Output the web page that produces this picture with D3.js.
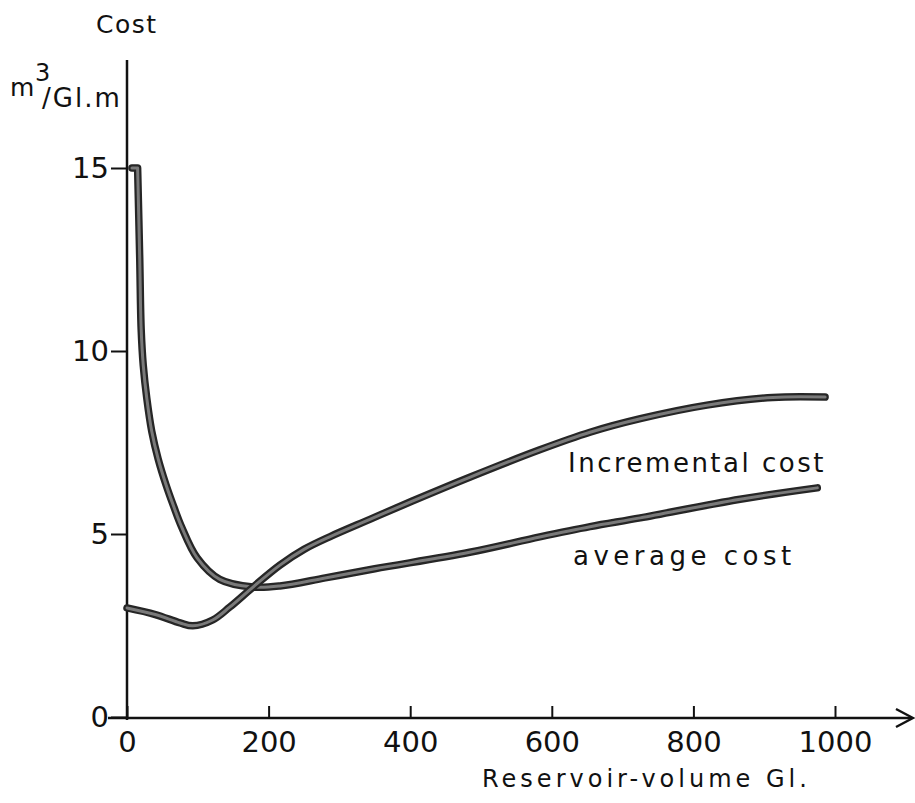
<!DOCTYPE html>
<html>
<head>
<meta charset="utf-8">
<script src="https://cdn.jsdelivr.net/npm/d3@7"></script>
<style>
  body { margin: 0; background: #fff; }
  svg text { font-family: "DejaVu Sans", sans-serif; fill: #111; }
</style>
</head>
<body>
<svg id="chart" width="915" height="803"></svg>
<script>
// values (x = reservoir volume Gl, y = cost m3/Gl.m)
const xTicks = [0, 200, 400, 600, 800, 1000];
const yTicks = [0, 5, 10, 15];

const avgVolume = [7, 15, 18, 20, 23, 28, 35, 44, 55, 66, 77, 99, 131, 178, 216, 280, 350, 484, 583, 654, 725, 866, 975];
const avgCost   = [15, 15, 12.5, 10.6, 9.6, 8.7, 7.8, 7.05, 6.35, 5.75, 5.2, 4.35, 3.76, 3.55, 3.58, 3.8, 4.05, 4.5, 4.92, 5.2, 5.44, 5.95, 6.26];

const incVolume = [0, 40, 75, 93, 121, 145, 178, 216, 250, 287, 343, 403, 484, 583, 654, 725, 819, 912, 986];
const incCost   = [2.98, 2.8, 2.57, 2.49, 2.65, 3.0, 3.55, 4.15, 4.58, 4.93, 5.4, 5.9, 6.55, 7.3, 7.78, 8.15, 8.52, 8.73, 8.74];

const svg = d3.select("#chart");

const x = d3.scaleLinear().domain([0, 1000]).range([127, 835]);
const y = d3.scaleLinear().domain([0, 15]).range([717, 168]);

// axes
const xAxis = svg.append("g")
  .attr("transform", "translate(0,718)")
  .call(d3.axisBottom(x).tickValues(xTicks).tickSize(-12).tickPadding(13).tickFormat(d3.format("d")));
xAxis.select(".domain").remove();
xAxis.selectAll("line").attr("stroke", "#111").attr("stroke-width", 2);
xAxis.selectAll("text").attr("font-size", 29).attr("fill", "#111");

const yAxis = svg.append("g")
  .attr("transform", "translate(127,0)")
  .call(d3.axisLeft(y).tickValues(yTicks).tickSize(16).tickPadding(2));
yAxis.select(".domain").remove();
yAxis.selectAll("line").attr("stroke", "#111").attr("stroke-width", 2);
yAxis.selectAll("text").attr("font-size", 29).attr("fill", "#111");

svg.append("line")
  .attr("x1", 108).attr("x2", 912)
  .attr("y1", 718).attr("y2", 718)
  .attr("stroke", "#111").attr("stroke-width", 2.5);
svg.append("line")
  .attr("x1", 127).attr("x2", 127)
  .attr("y1", 720).attr("y2", 60)
  .attr("stroke", "#111").attr("stroke-width", 2.5);
svg.append("path")
  .attr("d", "M896,709 L913,718 L896,727")
  .attr("fill", "none").attr("stroke", "#111").attr("stroke-width", 2.5);

// curves: the flat start at 15 is a plain corner, the rest is smoothed
const line = d3.line()
  .x(d => x(d[0]))
  .y(d => y(d[1]))
  .curve(d3.curveCatmullRom.alpha(0.5));

const series = [
  d3.zip(avgVolume, avgCost),
  d3.zip(incVolume, incCost)
];

function drawCurve(s) {
  const d = s === series[0]
    ? "M" + x(s[0][0]) + "," + y(s[0][1]) + "L" + line(s.slice(1)).slice(1)
    : line(s);
  svg.append("path")
    .attr("d", d)
    .attr("fill", "none")
    .attr("stroke", "#262626")
    .attr("stroke-width", 7.5)
    .attr("stroke-linecap", "round")
    .attr("stroke-linejoin", "round");
  svg.append("path")
    .attr("d", d)
    .attr("fill", "none")
    .attr("stroke", "#7a7a7a")
    .attr("stroke-width", 3)
    .attr("stroke-linecap", "round")
    .attr("stroke-linejoin", "round");
}
series.forEach(drawCurve);

// labels
svg.append("text").attr("x", 96).attr("y", 33)
  .attr("font-size", 25).attr("letter-spacing", 1.5).text("Cost");

svg.append("text").attr("x", 10).attr("y", 96).attr("font-size", 25).text("m");
svg.append("text").attr("x", 35).attr("y", 81).attr("font-size", 24).text("3");
svg.append("text").attr("x", 42).attr("y", 107).attr("font-size", 26)
  .attr("letter-spacing", 2).text("/Gl.m");

svg.append("text").attr("x", 568).attr("y", 472)
  .attr("font-size", 26).attr("letter-spacing", 2.5).text("Incremental cost");
svg.append("text").attr("x", 573).attr("y", 565)
  .attr("font-size", 26).attr("letter-spacing", 4.5).text("average cost");
svg.append("text").attr("x", 482).attr("y", 787)
  .attr("font-size", 24).attr("letter-spacing", 4).text("Reservoir-volume Gl.");
</script>
</body>
</html>
